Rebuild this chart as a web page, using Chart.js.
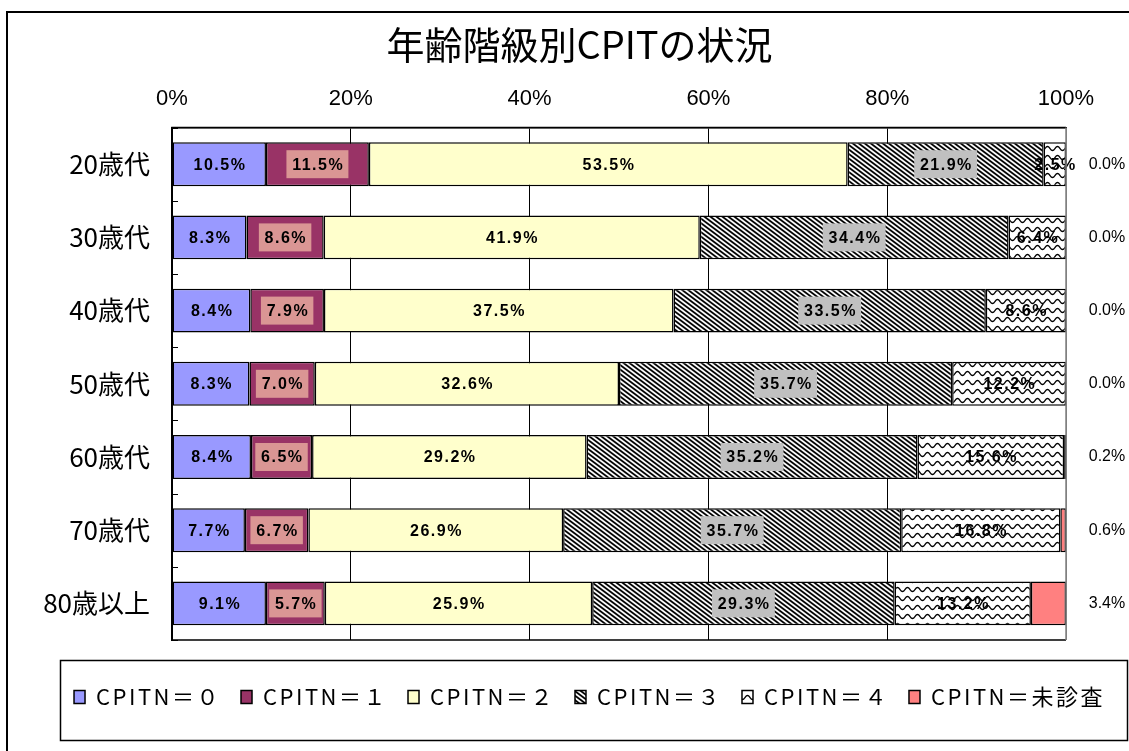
<!DOCTYPE html>
<html lang="ja">
<head>
<meta charset="utf-8">
<title>年齢階級別CPITの状況</title>
<script src="https://cdn.jsdelivr.net/npm/chart.js@4.4.1/dist/chart.umd.min.js"></script>
<style>
  html, body { margin: 0; padding: 0; background: #fff; }
</style>
</head>
<body>
<canvas id="chart-cpit" width="1129" height="751"></canvas>
<script>
const ageGroups = ["20歳代", "30歳代", "40歳代", "50歳代", "60歳代", "70歳代", "80歳以上"];
const seriesNames = ["CPITN＝０", "CPITN＝１", "CPITN＝２", "CPITN＝３", "CPITN＝４", "CPITN＝未診査"];
const cpitn0 = [10.5, 8.3, 8.4, 8.3, 8.4, 7.7, 9.1];
const cpitn1 = [11.5, 8.6, 7.9, 7.0, 6.5, 6.7, 5.7];
const cpitn2 = [53.5, 41.9, 37.5, 32.6, 29.2, 26.9, 25.9];
const cpitn3 = [21.9, 34.4, 33.5, 35.7, 35.2, 35.7, 29.3];
const cpitn4 = [2.5, 6.4, 8.6, 12.2, 15.6, 16.8, 13.2];
const cpitnNone = [0.0, 0.0, 0.0, 0.0, 0.2, 0.6, 3.4];
const percentTicks = [0, 20, 40, 60, 80, 100];

const CJK = "'Noto Sans CJK JP', 'Noto Sans', sans-serif";

// diagonal hatch, lines running down to the right
function hatchPattern() {
  const W = 6, H = 9, P = 6, slope = 0.75;
  const c = document.createElement("canvas");
  c.width = W; c.height = H;
  const g = c.getContext("2d");
  const img = g.createImageData(W, H);
  for (let y = 0; y < H; y++) {
    for (let x = 0; x < W; x++) {
      let ink = 0;
      for (let sy = 0; sy < 4; sy++) {
        for (let sx = 0; sx < 4; sx++) {
          const px = x + (sx + 0.5) / 4, py = y + (sy + 0.5) / 4;
          const t = ((((px - py / slope) % P) + P) % P);
          if (t < P / 2) ink++;
        }
      }
      const v = 255 - Math.round((ink / 16) * 255);
      const k = (y * W + x) * 4;
      img.data[k] = img.data[k + 1] = img.data[k + 2] = v;
      img.data[k + 3] = 255;
    }
  }
  g.putImageData(img, 0, 0);
  return g.createPattern(c, "repeat");
}

// wavy lines
function wavePattern() {
  const c = document.createElement("canvas");
  c.width = 10; c.height = 9;
  const g = c.getContext("2d");
  g.fillStyle = "#fff";
  g.fillRect(0, 0, 10, 9);
  g.strokeStyle = "#000";
  g.lineWidth = 1.3;
  g.beginPath();
  for (let x = -2; x <= 12; x += 0.5) {
    const y = 4.5 + 2 * Math.sin((x / 10) * 2 * Math.PI);
    if (x === -2) g.moveTo(x, y); else g.lineTo(x, y);
  }
  g.stroke();
  return g.createPattern(c, "repeat");
}

const allSeries = [cpitn0, cpitn1, cpitn2, cpitn3, cpitn4, cpitnNone];
// 100% stacked: each row is scaled to its own total
const rowTotals = ageGroups.map((_, i) => allSeries.reduce((s, arr) => s + arr[i], 0));
const asShare = (arr) => arr.map((v, i) => (v / rowTotals[i]) * 100);

const fills = ["#9999FF", "#993366", "#FFFFCC", hatchPattern(), wavePattern(), "#FF8080"];
const labelBoxes = [null, "#DA9694", null, "#C0C0C0", null, null];

function withSpacing(fn, spacing) {
  return function () {
    const ctx = this.ctx;
    const prev = ctx.letterSpacing;
    ctx.letterSpacing = spacing;
    const r = fn.apply(this, arguments);
    ctx.letterSpacing = prev;
    return r;
  };
}

const cpitPlugin = {
  id: "cpitPlugin",
  beforeLayout(chart) {
    const lg = chart.legend;
    if (lg && !lg._spaced) {
      lg.fit = withSpacing(lg.fit, "2.5px");
      lg.draw = withSpacing(lg.draw, "2.5px");
      lg._spaced = true;
    }
  },
  afterLayout(chart) {
    chart.titleBlock.left += 15;
    chart.titleBlock.right += 15;
    chart.legend.left += 25;
    chart.legend.right += 25;
  },
  beforeDatasetsDraw(chart) {
    const ctx = chart.ctx;
    const area = chart.chartArea;
    const y = chart.scales.y;
    ctx.save();
    ctx.strokeStyle = "#000";
    ctx.lineWidth = 1;
    ctx.beginPath();
    for (let i = 0; i <= ageGroups.length; i++) {
      const py = Math.round(y.getPixelForValue(i - 0.5)) + 0.5;
      ctx.moveTo(area.left, py);
      ctx.lineTo(area.left + 6, py);
    }
    ctx.stroke();
    ctx.restore();
  },
  afterDatasetsDraw(chart) {
    const ctx = chart.ctx;
    const area = chart.chartArea;
    ctx.save();
    ctx.textAlign = "center";
    ctx.textBaseline = "middle";
    chart.data.datasets.forEach((ds, di) => {
      const meta = chart.getDatasetMeta(di);
      meta.data.forEach((bar, i) => {
        const text = allSeries[di][i].toFixed(1) + "%";
        if (di === allSeries.length - 1) {
          ctx.font = "16px 'Liberation Sans', sans-serif";
          ctx.letterSpacing = "0px";
          ctx.fillStyle = "#000";
          ctx.fillText(text, area.right + 41, bar.y);
          return;
        }
        const cx = (bar.x + bar.base) / 2;
        ctx.font = "bold 16px 'Liberation Sans', sans-serif";
        ctx.letterSpacing = "1.5px";
        const w = ctx.measureText(text).width;
        if (labelBoxes[di]) {
          ctx.fillStyle = labelBoxes[di];
          ctx.fillRect(cx - w / 2 - 5, bar.y - 14, w + 10, 28);
        }
        ctx.fillStyle = "#000";
        ctx.fillText(text, cx + 0.75, bar.y + 1);
      });
    });
    // plot border
    ctx.letterSpacing = "0px";
    ctx.lineWidth = 1.5;
    ctx.strokeStyle = "#000";
    ctx.beginPath();
    ctx.moveTo(area.right, area.top);
    ctx.lineTo(area.left, area.top);
    ctx.lineTo(area.left, area.bottom);
    ctx.lineTo(area.right, area.bottom);
    ctx.stroke();
    ctx.strokeStyle = "#808080";
    ctx.beginPath();
    ctx.moveTo(area.right, area.top);
    ctx.lineTo(area.right, area.bottom);
    ctx.stroke();
    ctx.restore();
  },
  afterDraw(chart) {
    const ctx = chart.ctx;
    ctx.save();
    ctx.strokeStyle = "#000";
    ctx.lineWidth = 2;
    ctx.strokeRect(7, 12, 1140, 760);
    ctx.lineWidth = 1.5;
    ctx.strokeRect(60.5, chart.legend.top + 20.5, 1067, 80);
    ctx.restore();
  },
};

new Chart(document.getElementById("chart-cpit"), {
  type: "bar",
  data: {
    labels: ageGroups,
    datasets: allSeries.map((arr, di) => ({
      label: seriesNames[di],
      data: asShare(arr),
      backgroundColor: fills[di],
      borderColor: "#000",
      borderWidth: 1.5,
      borderSkipped: false,
      barPercentage: 0.6,
      categoryPercentage: 1,
    })),
  },
  options: {
    indexAxis: "y",
    responsive: false,
    animation: false,
    layout: { padding: { top: 0, left: 10, right: 10, bottom: 33 } },
    scales: {
      x: {
        position: "top",
        stacked: true,
        min: 0,
        max: 100,
        afterBuildTicks: (scale) => {
          scale.ticks = percentTicks.map((v) => ({ value: v }));
        },
        afterFit: (scale) => {
          scale.height = 50;
        },
        ticks: {
          color: "#000",
          padding: 15,
          font: { family: "'Liberation Sans Narrow', 'Liberation Sans', sans-serif", size: 22 },
          callback: (v) => v + "%",
        },
        grid: {
          drawTicks: false,
          color: (c) => (c.tick && c.tick.value === 100 ? "#808080" : "#000"),
          lineWidth: 1,
        },
        border: { display: true, color: "#000", width: 1.5 },
      },
      y: {
        stacked: true,
        afterFit: (scale) => {
          scale.width = 162;
        },
        ticks: {
          color: "#000",
          padding: 22,
          font: { family: CJK, size: 26 },
        },
        grid: { display: false, drawTicks: false },
        border: { display: true, color: "#000", width: 1.5 },
      },
      // empty right-hand band that leaves room for the 未診査 values
      yRight: {
        type: "category",
        position: "right",
        afterFit: (scale) => {
          scale.width = 53;
        },
        ticks: { display: false },
        grid: { display: false, drawTicks: false },
        border: { display: false },
      },
    },
    plugins: {
      title: {
        display: true,
        text: "年齢階級別CPITの状況",
        color: "#000",
        font: { family: CJK, size: 38, weight: "normal" },
        padding: { top: 22, bottom: 10 },
      },
      legend: {
        position: "bottom",
        title: { display: true, text: " ", font: { size: 10 }, padding: { top: 14, bottom: 0 } },
        labels: {
          boxWidth: 11,
          boxHeight: 13,
          padding: 20,
          color: "#000",
          font: { family: CJK, size: 22 },
        },
      },
      tooltip: { enabled: false },
    },
  },
  plugins: [cpitPlugin],
});
</script>
</body>
</html>
